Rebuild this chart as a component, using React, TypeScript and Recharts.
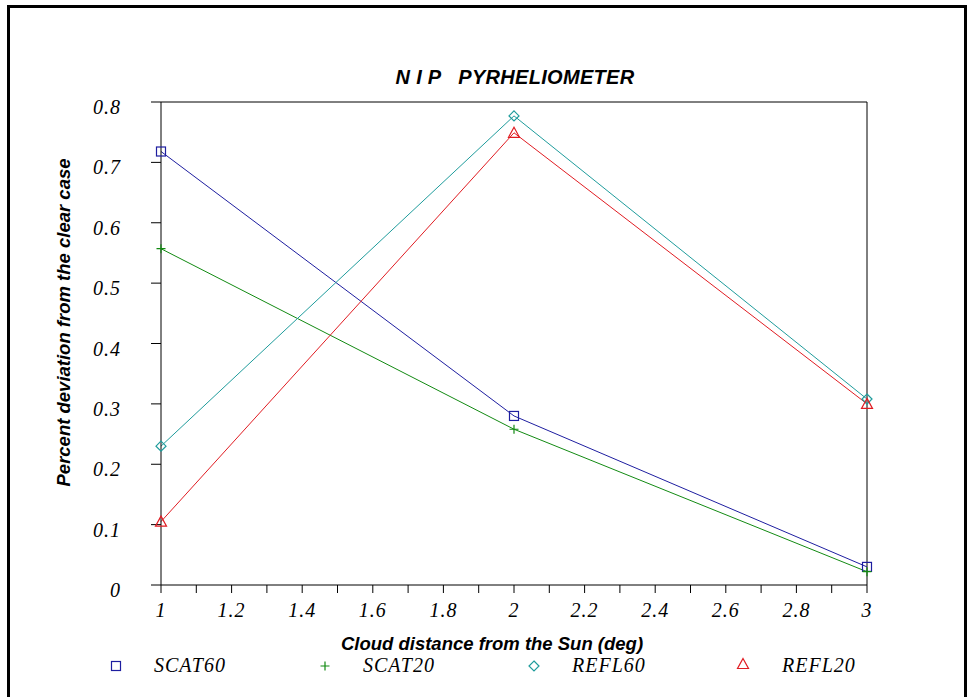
import React from "react";
import { LineChart, Line, XAxis, YAxis, ReferenceLine, Label } from "recharts";

// cloud distance from the sun (deg)
const distances = [1, 2, 3];

// percent deviation from the clear case
const scat60 = [0.718, 0.28, 0.03];
const scat20 = [0.557, 0.258, 0.022];
const refl60 = [0.23, 0.777, 0.308];
const refl20 = [0.105, 0.749, 0.3];

const xTicks = [1, 1.1, 1.2, 1.3, 1.4, 1.5, 1.6, 1.7, 1.8, 1.9, 2, 2.1, 2.2, 2.3, 2.4, 2.5, 2.6, 2.7, 2.8, 2.9, 3];
const yTicks = [0, 0.1, 0.2, 0.3, 0.4, 0.5, 0.6, 0.7, 0.8];

type MarkerKind = "square" | "plus" | "diamond" | "triangle";

const series: { key: string; color: string; marker: MarkerKind }[] = [
  { key: "SCAT60", color: "#1e1ea0", marker: "square" },
  { key: "SCAT20", color: "#128a12", marker: "plus" },
  { key: "REFL60", color: "#1f9c9c", marker: "diamond" },
  { key: "REFL20", color: "#e01c22", marker: "triangle" },
];

const data = distances.map((d, i) => ({
  d,
  SCAT60: scat60[i],
  SCAT20: scat20[i],
  REFL60: refl60[i],
  REFL20: refl20[i],
}));

const serifText = {
  fontFamily: "'Liberation Serif', serif",
  fontStyle: "italic",
  fontSize: 20,
  letterSpacing: 1,
  fill: "#000",
};

const sansTitle = {
  fontFamily: "'Liberation Sans', Arial, sans-serif",
  fontStyle: "italic",
  fontWeight: "bold",
  fontSize: 18.5,
  fill: "#000",
};

function Marker({ kind, cx, cy, color }: { kind: MarkerKind; cx: number; cy: number; color: string }) {
  switch (kind) {
    case "square":
      return <rect x={cx - 4.5} y={cy - 4.5} width={9} height={9} fill="none" stroke={color} strokeWidth={1.2} />;
    case "plus":
      return <path d={`M${cx - 4.5},${cy}H${cx + 4.5}M${cx},${cy - 4.5}V${cy + 4.5}`} stroke={color} strokeWidth={1.2} />;
    case "diamond":
      return <path d={`M${cx},${cy - 5}L${cx + 5},${cy}L${cx},${cy + 5}L${cx - 5},${cy}Z`} fill="none" stroke={color} strokeWidth={1.2} />;
    default:
      return <path d={`M${cx},${cy - 5.5}L${cx + 5.5},${cy + 4.5}L${cx - 5.5},${cy + 4.5}Z`} fill="none" stroke={color} strokeWidth={1.2} />;
  }
}

const xLabel = (v: number) => {
  const t = Math.round(v * 10);
  return t % 2 === 0 ? String(t / 10) : "";
};

const yLabel = (v: number) => (v === 0 ? "0" : v.toFixed(1));

// legend slot positions (marker centre x, text left x)
const legendSlots = [
  { mx: 116, my: 666, tx: 154 },
  { mx: 325, my: 666, tx: 363 },
  { mx: 534, my: 666, tx: 572 },
  { mx: 743, my: 664, tx: 782 },
];

export default function App() {
  return (
    <div
      style={{
        position: "absolute",
        left: 0,
        top: 0,
        width: 967,
        height: 697,
        overflow: "hidden",
        background: "#fff",
      }}
    >
      <div
        style={{
          position: "absolute",
          left: 7,
          top: 5,
          width: 960,
          height: 720,
          boxSizing: "border-box",
          borderLeft: "3px solid #000",
          borderTop: "3px solid #000",
          borderRight: "3px solid #000",
        }}
      />
      <div
        style={{
          position: "absolute",
          left: 515,
          top: 66,
          transform: "translateX(-50%)",
          whiteSpace: "pre",
          fontFamily: "'Liberation Sans', Arial, sans-serif",
          fontStyle: "italic",
          fontWeight: "bold",
          fontSize: 20,
          letterSpacing: 0.3,
          lineHeight: "normal",
        }}
      >
        {"N I P   PYRHELIOMETER"}
      </div>
      <div style={{ position: "absolute", left: 0, top: 0 }}>
        <LineChart width={967} height={697} data={data} margin={{ top: 102, right: 100, bottom: 82, left: 0 }}>
          <XAxis
            dataKey="d"
            type="number"
            domain={[1, 3]}
            ticks={xTicks}
            interval={0}
            tickFormatter={xLabel}
            tickSize={8}
            tickMargin={10}
            height={30}
            stroke="#000"
            tick={serifText}
          >
            <Label
              value="Cloud distance from the Sun (deg)"
              position="bottom"
              offset={22}
              dx={-22}
              style={sansTitle}
            />
          </XAxis>
          <YAxis
            type="number"
            domain={[0, 0.8]}
            ticks={yTicks}
            interval={0}
            tickFormatter={yLabel}
            tickSize={10}
            tickMargin={30}
            width={161}
            stroke="#000"
            tick={{ ...serifText, dy: 5 }}
          >
            <Label
              value="Percent deviation from the clear case"
              position="center"
              angle={-90}
              dx={-17}
              dy={-21}
              style={sansTitle}
            />
          </YAxis>
          <ReferenceLine y={0.8} stroke="#000" />
          <ReferenceLine x={3} stroke="#000" />
          {series.map((s) => (
            <Line
              key={s.key}
              type="linear"
              dataKey={s.key}
              stroke={s.color}
              strokeWidth={1}
              isAnimationActive={false}
              activeDot={false}
              dot={(p: any) => (
                <g key={`${s.key}-${p.index}`}>
                  <Marker kind={s.marker} cx={p.cx} cy={p.cy} color={s.color} />
                </g>
              )}
            />
          ))}
        </LineChart>
      </div>
      <svg width={967} height={697} style={{ position: "absolute", left: 0, top: 0, pointerEvents: "none" }}>
        {series.map((s, i) => {
          const slot = legendSlots[i];
          return (
            <g key={s.key}>
              <Marker kind={s.marker} cx={slot.mx} cy={slot.my} color={s.color} />
              <text x={slot.tx} y={672} style={serifText}>
                {s.key}
              </text>
            </g>
          );
        })}
      </svg>
    </div>
  );
}
